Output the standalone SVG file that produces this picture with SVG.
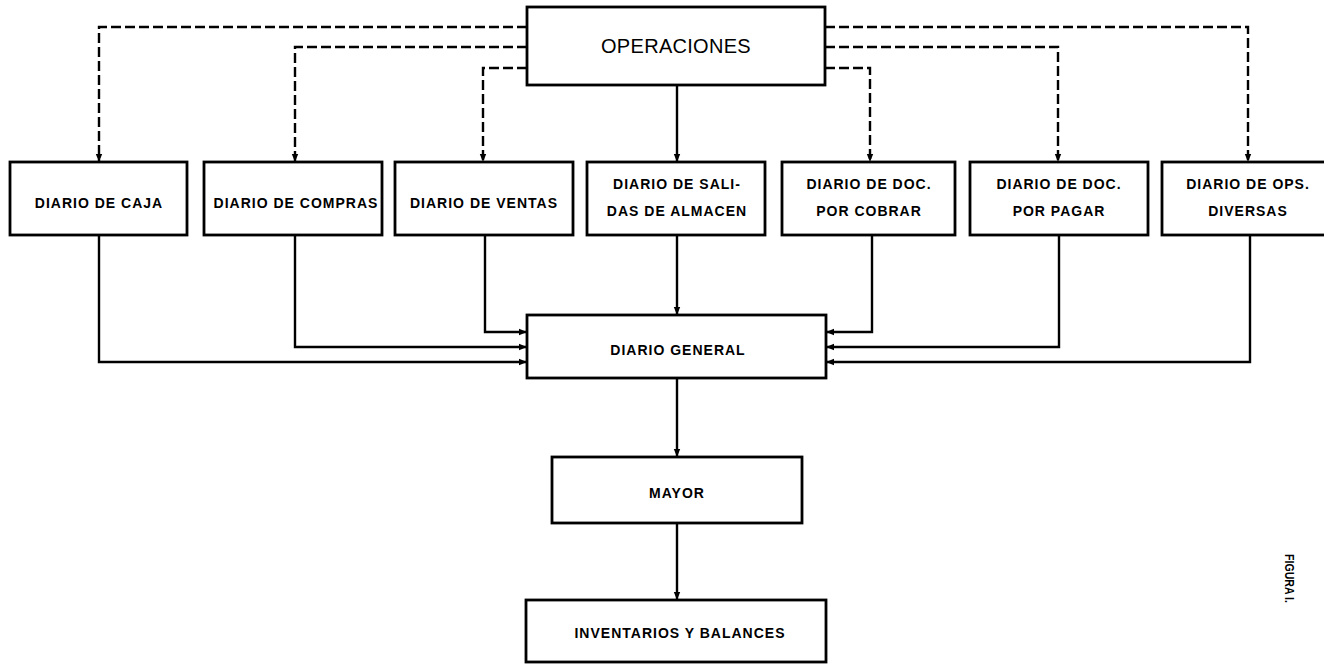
<svg xmlns="http://www.w3.org/2000/svg" width="1324" height="664" viewBox="0 0 1324 664">
<defs>
<style>
.box{fill:#fff;stroke:#000;stroke-width:2.8}
.lbl{font-family:"Liberation Sans",Arial,sans-serif;font-weight:bold;font-size:14px;letter-spacing:1px;text-anchor:middle;fill:#000}
.big{font-family:"Liberation Sans",Arial,sans-serif;font-size:20px;letter-spacing:0.3px;text-anchor:middle;fill:#000}
.c{fill:none;stroke:#000;stroke-width:2.4}
.d{fill:none;stroke:#000;stroke-width:2.4;stroke-dasharray:10 4}
</style>
<marker id="ah" viewBox="0 0 10 10" refX="10" refY="5" markerWidth="8" markerHeight="8" markerUnits="userSpaceOnUse" orient="auto">
<path d="M0,1 L10,5 L0,9 Z" fill="#000"/>
</marker>
</defs>
<rect width="1324" height="664" fill="#fff"/>
<g id="connectors">
<path class="d" d="M527,27 H99 V162" marker-end="url(#ah)"/>
<path class="d" d="M527,47 H295 V162" marker-end="url(#ah)"/>
<path class="d" d="M527,68 H483 V162" marker-end="url(#ah)"/>
<path class="d" d="M825,27 H1248 V162" marker-end="url(#ah)"/>
<path class="d" d="M825,47 H1058 V162" marker-end="url(#ah)"/>
<path class="d" d="M825,68 H870 V162" marker-end="url(#ah)"/>
<path class="c" d="M677,85 V162" marker-end="url(#ah)"/>
<path class="c" d="M99,235 V362 H527" marker-end="url(#ah)"/>
<path class="c" d="M295,235 V347 H527" marker-end="url(#ah)"/>
<path class="c" d="M485,235 V332 H527" marker-end="url(#ah)"/>
<path class="c" d="M677,235 V315" marker-end="url(#ah)"/>
<path class="c" d="M872,235 V332 H826" marker-end="url(#ah)"/>
<path class="c" d="M1059,235 V347 H826" marker-end="url(#ah)"/>
<path class="c" d="M1250,235 V362 H826" marker-end="url(#ah)"/>
<path class="c" d="M677,378 V457" marker-end="url(#ah)"/>
<path class="c" d="M677,523 V600" marker-end="url(#ah)"/>
</g>
<g id="operaciones"><rect class="box" x="527" y="7" width="298" height="78"/><text class="big" x="676" y="53">OPERACIONES</text></g>
<g id="caja"><rect class="box" x="10" y="162" width="177" height="73"/><text class="lbl" x="99" y="208">DIARIO DE CAJA</text></g>
<g id="compras"><rect class="box" x="204" y="162" width="178" height="73"/><text class="lbl" x="296" y="208">DIARIO DE COMPRAS</text></g>
<g id="ventas"><rect class="box" x="395" y="162" width="178" height="73"/><text class="lbl" x="484" y="208">DIARIO DE VENTAS</text></g>
<g id="salidas"><rect class="box" x="587" y="162" width="178" height="73"/><text class="lbl" x="677" y="189">DIARIO DE SALI-</text><text class="lbl" x="677" y="216">DAS DE ALMACEN</text></g>
<g id="cobrar"><rect class="box" x="782" y="162" width="173" height="73"/><text class="lbl" x="869" y="189">DIARIO DE DOC.</text><text class="lbl" x="869" y="216">POR COBRAR</text></g>
<g id="pagar"><rect class="box" x="970" y="162" width="178" height="73"/><text class="lbl" x="1059" y="189">DIARIO DE DOC.</text><text class="lbl" x="1059" y="216">POR PAGAR</text></g>
<g id="diversas"><rect class="box" x="1162" y="162" width="172" height="73"/><text class="lbl" x="1248" y="189">DIARIO DE OPS.</text><text class="lbl" x="1248" y="216">DIVERSAS</text></g>
<g id="general"><rect class="box" x="527" y="315" width="299" height="63"/><text class="lbl" x="678" y="355">DIARIO GENERAL</text></g>
<g id="mayor"><rect class="box" x="552" y="457" width="250" height="66"/><text class="lbl" x="677" y="498">MAYOR</text></g>
<g id="inventarios"><rect class="box" x="526" y="600" width="300" height="62"/><text class="lbl" x="680" y="638">INVENTARIOS Y BALANCES</text></g>
<text transform="translate(1285,554) rotate(90)" font-family="Liberation Sans, Arial, sans-serif" font-weight="bold" font-size="13" textLength="49" lengthAdjust="spacingAndGlyphs">FIGURA I.</text>
</svg>
